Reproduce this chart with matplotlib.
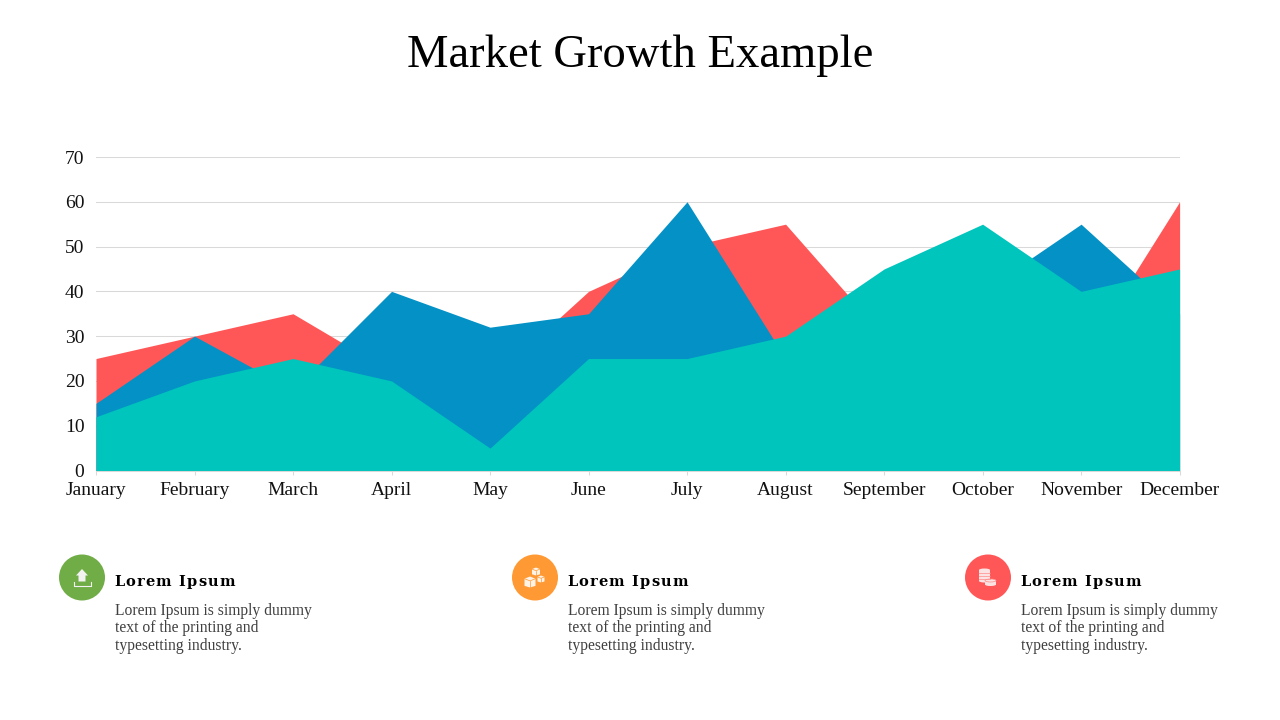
import matplotlib
matplotlib.use("Agg")
import matplotlib.pyplot as plt
from matplotlib.patches import Circle, Polygon, Rectangle, Ellipse

months = ["January", "February", "March", "April", "May", "June", "July",
          "August", "September", "October", "November", "December"]
series_red = [25, 30, 35, 22, 20, 40, 50, 55, 30, 30, 25, 60]
series_blue = [15, 30, 18, 40, 32, 35, 60, 25, 30, 40, 55, 35]
series_teal = [12, 20, 25, 20, 5, 25, 25, 30, 45, 55, 40, 45]
y_ticks = [0, 10, 20, 30, 40, 50, 60, 70]
title = "Market Growth Example"
heading = "Lorem Ipsum"
body = ["Lorem Ipsum is simply dummy", "text of the printing and", "typesetting industry."]
badge_colors = ["#70AD47", "#FF9933", "#FF5757"]
badge_x = [82, 535, 988]

W, H = 1280, 720
SERIF = "Liberation Serif"
fig = plt.figure(figsize=(12.8, 7.2), dpi=100, facecolor="white")

ax = fig.add_axes([96 / W, 1 - 470.5 / H, (1179.6 - 96) / W, (470.5 - 157) / H])
x = list(range(len(months)))
ax.fill_between(x, 0, series_red, color="#FF5757", lw=0, zorder=2)
ax.fill_between(x, 0, series_blue, color="#0391C6", lw=0, zorder=3)
ax.fill_between(x, 0, series_teal, color="#00C5BC", lw=0, zorder=4)
ax.set_xlim(0, len(months) - 1)
ax.set_ylim(0, 70)
ax.set_yticks(y_ticks)
ax.set_xticks(x)
ax.set_xticklabels(months, family=SERIF, fontsize=14, color="#111111")
ax.set_yticklabels([str(v) for v in y_ticks], family=SERIF, fontsize=14, color="#111111")
ax.grid(axis="y", color="#D9D9D9", lw=0.75, zorder=1)
ax.set_axisbelow(True)
for s in ["top", "left", "right"]:
    ax.spines[s].set_visible(False)
ax.spines["bottom"].set_color("#D9D9D9")
ax.spines["bottom"].set_linewidth(0.75)
ax.spines["bottom"].set_zorder(5)
ax.tick_params(axis="y", length=0, pad=8.3)
ax.tick_params(axis="x", length=3, width=0.75, color="#D9D9D9", pad=5)

ov = fig.add_axes([0, 0, 1, 1], facecolor="none")
ov.set_xlim(0, W)
ov.set_ylim(H, 0)
ov.axis("off")

ov.text(640, 67, title, ha="center", va="baseline", family=SERIF, fontsize=33.6, color="#000000")

renderer = fig.canvas.get_renderer()


def spaced_text(px, py, s, gap, **kw):
    """Letter-spaced text: each prefix is measured so kerning stays natural."""
    for i, ch in enumerate(s):
        probe = ov.text(0, 0, s[:i] if i else "", **kw)
        adv = probe.get_window_extent(renderer).width if i else 0
        # trailing spaces are not measured by the extent, so measure with a sentinel
        if i and s[i - 1] == " ":
            probe.set_text(s[:i] + "|")
            w1 = probe.get_window_extent(renderer).width
            probe.set_text("|")
            adv = w1 - probe.get_window_extent(renderer).width
        probe.remove()
        if ch != " ":
            ov.text(px + adv + gap * i, py, ch, ha="left", va="baseline", **kw)


def upload_icon(cx, cy):
    c = "#F2F2F2"
    ov.add_patch(Polygon([(cx, cy - 8.5), (cx + 6, cy - 2), (cx + 3.5, cy - 2), (cx + 3.5, cy + 4),
                          (cx - 3.5, cy + 4), (cx - 3.5, cy - 2), (cx - 6, cy - 2)], fc=c, ec="none"))
    ov.plot([cx - 8.5, cx - 8.5, cx + 8.5, cx + 8.5], [cy + 4.5, cy + 8, cy + 8, cy + 4.5], color=c, lw=0.8)


def cube(cx, cy, s):
    c = "#FFF3E6"
    ov.add_patch(Polygon([(cx - s, cy - s * .6), (cx, cy - s), (cx + s, cy - s * .6), (cx + s, cy + s * .7),
                          (cx, cy + s), (cx - s, cy + s * .7)], fc=c, ec="none"))
    ov.plot([cx, cx], [cy - s * .2, cy + s], color="#FF9933", lw=.5)
    ov.plot([cx - s, cx, cx + s], [cy - s * .6, cy - s * .2, cy - s * .6], color="#FF9933", lw=.5)


def boxes_icon(cx, cy):
    cube(cx + 1, cy - 6, 4)
    cube(cx - 5, cy + 4.5, 5.5)
    cube(cx + 6, cy + 1.5, 3.5)


def coins_icon(cx, cy):
    c = "#FBE3E3"
    line = "#FF8A8A"
    ov.add_patch(Rectangle((cx - 9, cy - 7.5), 11, 11, fc=c, ec="none"))
    ov.add_patch(Ellipse((cx - 3.5, cy - 7.5), 11, 3, fc=c, ec="none"))
    ov.add_patch(Ellipse((cx - 3.5, cy + 3.5), 11, 3, fc=c, ec="none"))
    for dy in (-4.5, -1.5, 1.5):
        ov.plot([cx - 9, cx + 2], [cy + dy, cy + dy], color=line, lw=.5)
    ov.add_patch(Ellipse((cx + 2.5, cy + 7), 11, 3, fc=c, ec="none"))
    ov.add_patch(Rectangle((cx - 3, cy + 3), 11, 4, fc=c, ec="none"))
    ov.add_patch(Ellipse((cx + 2.5, cy + 3), 11, 3, fc=c, ec=line, lw=.5))


icons = [upload_icon, boxes_icon, coins_icon]
for bx, col, icon in zip(badge_x, badge_colors, icons):
    ov.add_patch(Circle((bx, 577.5), 23, fc=col, ec="none"))
    icon(bx, 577.5)
    spaced_text(bx + 32.2, 586, heading, 1.15, family="DejaVu Serif", weight="bold",
                fontsize=10.5, color="#000000")
    for line, ly in zip(body, [615, 632.5, 650]):
        ov.text(bx + 33, ly, line, ha="left", va="baseline", family=SERIF, fontsize=11.25, color="#404040")

fig.savefig("out.png", dpi=100)
